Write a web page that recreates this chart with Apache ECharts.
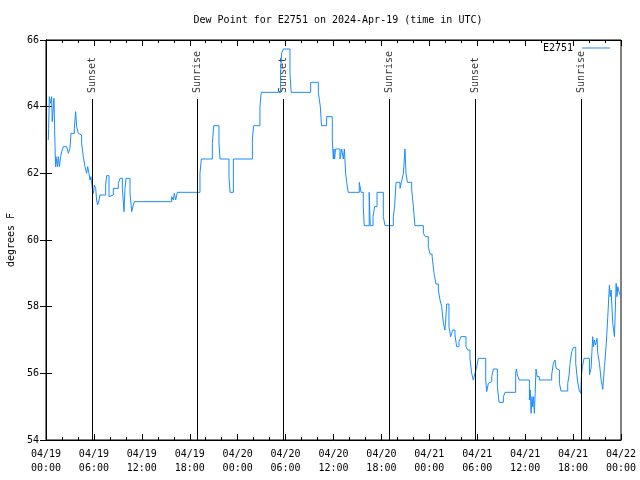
<!DOCTYPE html>
<html>
<head>
<meta charset="utf-8">
<script src="https://cdn.jsdelivr.net/npm/echarts@6/dist/echarts.min.js"></script>
<style>
html,body{margin:0;padding:0;background:#fff;}
#chart{width:640px;height:480px;}
</style>
</head>
<body>
<div id="chart"></div>
<script>
// hours since 2024-04-19 00:00 UTC
const times = [0.29,0.33,0.42,0.58,0.71,0.78,0.90,1.0,1.13,1.2,1.25,1.42,1.54,1.67,1.84,1.96,2.17,2.59,2.8,3.0,3.13,3.55,3.71,3.84,4.05,4.26,4.46,4.67,4.88,5.09,5.22,5.38,5.51,5.63,5.80,5.93,6.05,6.22,6.34,6.47,6.64,6.76,7.47,7.59,7.89,8.14,8.43,9.06,9.27,9.56,9.77,9.89,10.02,10.52,10.73,10.93,11.06,15.73,15.94,16.07,16.24,16.44,19.28,19.45,20.83,21.0,21.66,21.79,22.91,23.05,23.46,25.84,26.0,26.79,26.95,29.38,29.5,29.72,30.55,30.7,33.14,34.1,34.35,34.5,35.14,35.85,35.98,36.05,36.14,36.25,36.81,37.02,37.23,37.36,37.52,37.65,37.85,39.23,39.45,39.73,39.85,40.47,40.6,40.95,41.15,41.45,42.24,42.45,43.49,43.65,43.83,44.33,44.5,44.75,44.95,45.08,45.25,45.79,46.0,46.2,47.25,47.5,47.87,48.08,48.35,48.59,48.84,49.13,49.34,49.55,49.76,49.95,50.05,50.17,50.46,50.67,50.92,51.21,51.42,51.71,51.96,52.59,52.80,53.09,53.30,53.51,53.72,53.93,54.14,55.06,55.18,55.39,55.6,55.81,56.02,56.52,56.73,57.27,57.48,58.81,58.9,59.02,59.27,60.53,60.65,60.74,60.85,60.95,61.05,61.15,61.25,61.36,61.5,61.78,63.32,63.53,63.74,63.87,64.04,64.29,64.49,65.33,65.5,65.62,65.83,66.04,66.33,66.54,66.75,66.96,67.05,67.17,67.38,68.05,68.25,68.46,68.55,68.67,68.8,69.0,69.09,69.30,69.51,69.72,69.93,70.13,70.34,70.55,70.65,70.76,70.97,71.18,71.39,71.5,71.6,71.8,72.0];
const dewF = [63.0,63.35,64.3,64.1,64.3,63.55,63.6,64.25,62.8,62.2,62.5,62.2,62.5,62.2,62.5,62.65,62.8,62.75,62.6,62.75,63.2,63.35,63.85,63.4,63.2,63.15,62.9,62.5,62.2,62.0,62.2,62.0,61.8,61.9,61.55,61.4,61.65,61.55,61.2,61.05,61.2,61.35,61.65,61.93,61.3,61.35,61.55,61.7,61.85,61.55,60.85,61.55,61.85,61.4,60.85,61.05,61.15,61.3,61.2,61.4,61.2,61.43,62.0,62.43,62.9,63.43,62.9,62.43,61.9,61.43,62.43,63.0,63.43,64.0,64.43,65.0,65.6,65.73,65.0,64.43,64.73,64.43,64.0,63.43,63.7,63.0,62.43,62.73,62.43,62.73,62.43,62.73,62.43,62.73,62.0,61.73,61.43,61.73,61.43,61.0,60.43,61.43,60.43,60.7,61.0,61.43,60.7,60.43,60.7,61.0,61.73,61.55,61.73,62.0,62.73,62.0,61.73,61.5,61.0,60.43,60.2,60.1,59.8,59.58,59.5,59.0,58.68,58.5,58.2,58.0,57.5,57.3,57.6,58.08,57.4,57.1,57.3,57.15,56.8,56.95,57.1,56.8,56.7,56.45,56.0,55.8,56.0,56.2,56.45,55.8,55.45,55.7,55.75,55.9,56.13,55.6,55.13,55.3,55.43,56.0,56.13,55.95,55.8,55.2,55.5,54.8,55.3,55.0,55.3,54.8,55.4,56.13,55.9,55.8,55.95,56.3,56.4,56.15,56.1,55.7,55.47,55.7,55.95,56.3,56.65,56.78,56.3,55.8,55.5,55.4,55.95,56.2,56.45,55.95,56.15,57.1,56.8,57.0,56.85,57.05,56.6,56.3,55.8,55.52,56.2,56.8,57.68,58.65,58.3,58.5,57.5,57.1,58.7,58.3,58.6,58.4,58.3];
const sunTimes = [5.79, 18.95, 29.72, 42.99, 53.78, 67.03];
const sunLabels = ['Sunset', 'Sunrise', 'Sunset', 'Sunrise', 'Sunset', 'Sunrise'];
const xTickLabels = ['04/19\n00:00','04/19\n06:00','04/19\n12:00','04/19\n18:00','04/20\n00:00','04/20\n06:00','04/20\n12:00','04/20\n18:00','04/21\n00:00','04/21\n06:00','04/21\n12:00','04/21\n18:00','04/22\n00:00'];
const yTicks = [54, 56, 58, 60, 62, 64, 66];
const sunLineTop = 64.23;

const FONT = 'DejaVu Sans Mono';
const seriesData = times.map((t, i) => [t, dewF[i]]);
const sunLineData = sunTimes.map(t => [{coord: [t, yTicks[0]]}, {coord: [t, sunLineTop]}]);
const sunLabelData = sunTimes.map((t, i) => ({value: [t, sunLineTop], name: sunLabels[i]}));

const chart = echarts.init(document.getElementById('chart'), null, {renderer: 'canvas'});
const axisBase = {
  type: 'value',
  axisLine: {show: true, lineStyle: {color: '#000', width: 1}},
  splitLine: {show: false},
};
chart.setOption({
  animation: false,
  backgroundColor: '#fff',
  textStyle: {fontFamily: FONT},
  title: {
    text: 'Dew Point for E2751 on 2024-Apr-19 (time in UTC)',
    left: 333, top: 10, textAlign: 'center',
    textStyle: {fontFamily: FONT, fontSize: 10, fontWeight: 'normal', color: '#000'}
  },
  legend: {
    data: ['E2751'], right: 30, top: 43, align: 'right', padding: 0,
    icon: 'rect', itemWidth: 28, itemHeight: 1, itemGap: 4,
    textStyle: {fontFamily: FONT, fontSize: 10, color: '#000', padding: [0, 4, 0, 0]}
  },
  grid: {left: 46, right: 19, top: 40, bottom: 40, containLabel: false, outerBoundsMode: 'none',
    show: true, borderColor: '#000', borderWidth: 1, backgroundColor: 'transparent'},
  xAxis: [
    Object.assign({}, axisBase, {
      min: 0, max: 72, interval: 6, position: 'bottom',
      axisTick: {show: true, inside: true, length: 6, lineStyle: {color: '#000'}},
      minorTick: {show: true, splitNumber: 3, length: 3, lineStyle: {color: '#000'}},
      axisLabel: {color: '#000', fontFamily: FONT, fontSize: 10, lineHeight: 14, margin: 7,
        formatter: v => xTickLabels[Math.round(v / 6)]}
    }),
    Object.assign({}, axisBase, {
      min: 0, max: 72, interval: 6, position: 'top',
      axisTick: {show: true, inside: true, length: 6, lineStyle: {color: '#000'}},
      minorTick: {show: true, splitNumber: 3, length: 3, lineStyle: {color: '#000'}},
      axisLabel: {show: false}
    })
  ],
  yAxis: [
    Object.assign({}, axisBase, {
      min: yTicks[0], max: yTicks[yTicks.length - 1], interval: 2, position: 'left',
      name: 'degrees F', nameLocation: 'middle', nameGap: 30, nameRotate: 90,
      nameTextStyle: {color: '#000', fontFamily: FONT, fontSize: 10},
      axisTick: {show: true, inside: true, length: 6, lineStyle: {color: '#000'}},
      axisLabel: {color: '#000', fontFamily: FONT, fontSize: 10, margin: 7}
    }),
    Object.assign({}, axisBase, {
      min: yTicks[0], max: yTicks[yTicks.length - 1], interval: 2, position: 'right',
      axisTick: {show: true, inside: true, length: 6, lineStyle: {color: '#000'}},
      axisLabel: {show: false}
    })
  ],
  series: [
    {
      name: 'E2751', type: 'line', step: 'end', data: seriesData,
      xAxisIndex: 0, yAxisIndex: 0,
      symbol: 'none', lineStyle: {color: '#1a8cff', width: 1}, itemStyle: {color: '#1a8cff'},
      markLine: {
        silent: true, symbol: ['none', 'none'],
        lineStyle: {color: '#000', width: 1, type: 'solid'},
        label: {show: false},
        data: sunLineData
      }
    },
    {
      name: 'sun', type: 'scatter', data: sunLabelData,
      xAxisIndex: 0, yAxisIndex: 0,
      symbolSize: 0, silent: true,
      label: {
        show: true, position: 'top', distance: 6, rotate: 90,
        align: 'left', verticalAlign: 'middle',
        formatter: p => p.name,
        color: '#000', fontFamily: FONT, fontSize: 10
      }
    }
  ]
});
</script>
</body>
</html>
